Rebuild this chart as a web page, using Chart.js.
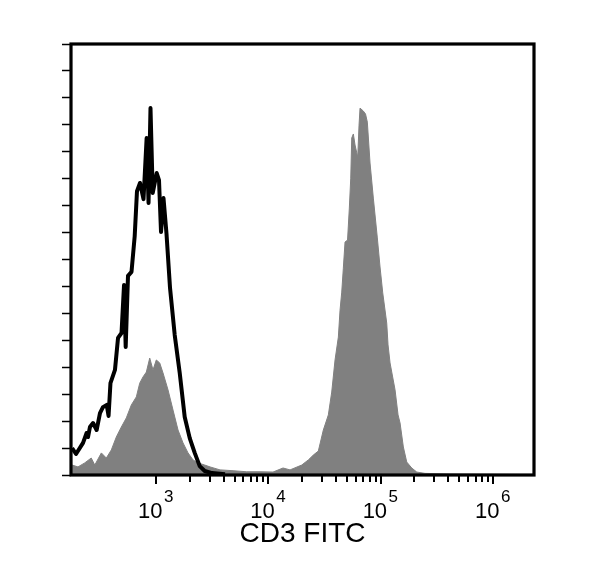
<!DOCTYPE html>
<html>
<head>
<meta charset="utf-8">
<script src="https://cdn.jsdelivr.net/npm/chart.js@4/dist/chart.umd.min.js"></script>
<style>
  html, body { margin: 0; padding: 0; background: #fff; }
</style>
</head>
<body>
<canvas id="histo" width="600" height="572"></canvas>
<script>
// control (black outline) histogram, FITC intensity vs count
var controlX = [179, 194, 224, 241, 248, 258, 275, 296, 317, 337, 364, 378, 393, 431, 459, 493, 519, 537, 563, 605,
    646, 677, 720, 774, 825, 858, 893, 935, 1014, 1063, 1108, 1166, 1240, 1333, 1467, 1626, 1801, 1996, 2211, 2449,
    2715, 3150, 4115];
var controlY = [10.0, 7.8, 11.9, 15.6, 14.1, 17.8, 19.3, 16.7, 23.0, 25.2, 26.0, 21.9, 34.1, 39.0, 50.9, 52.7, 70.5, 47.5, 73.9, 75.4,
    88.7, 105.4, 108.4, 102.4, 125.1, 101.0, 136.2, 104.7, 112.1, 109.5, 90.2, 102.8, 89.5, 69.4, 52.0, 37.9, 21.5, 13.7, 8.2, 3.3,
    1.5, 0.7, 0.3];

// CD3 stained (grey filled) histogram
var cd3X = [179, 202, 232, 265, 285, 326, 361, 400, 443, 491, 544, 603, 668, 716, 766, 820, 879, 940, 1006, 1079,
    1154, 1279, 1417, 1570, 1740, 1928, 2136, 2366, 2715, 3027, 3715, 4851, 6423, 8436, 11014, 13517, 15605, 19837, 22710, 25160,
    27875, 30890, 34220, 36690, 39260, 42020, 43500, 45040, 46550, 48190, 50730, 52640, 54180, 55300, 57150, 59160, 62520, 64220, 65550, 70150,
    73370, 76140, 80460, 86100, 93460, 98790, 104400, 113300, 116400, 121300, 134400, 142900, 148900, 159300, 170800, 189200, 209700, 248500, 414900, 767400,
    1743000, 2323000];
var cd3Y = [3.7, 3.0, 4.5, 6.3, 3.7, 8.2, 6.3, 9.3, 14.1, 17.8, 21.2, 26.0, 29.0, 34.1, 36.4, 38.2, 43.4, 39.0, 42.7, 41.6,
    37.9, 31.6, 24.1, 16.7, 11.9, 8.2, 5.6, 4.5, 3.7, 3.0, 1.9, 1.6, 1.2, 1.2, 1.1, 2.6, 1.9, 3.7, 5.6, 7.4,
    8.9, 16.7, 22.3, 30.8, 42.7, 51.2, 61.2, 67.9, 76.8, 86.5, 87.2, 99.1, 110.2, 125.1, 126.6, 122.5, 118.0, 129.9, 136.2, 135.1,
    134.0, 131.0, 115.8, 102.8, 88.0, 77.2, 67.6, 56.4, 48.3, 41.6, 31.6, 22.3, 19.3, 10.4, 4.8, 2.6, 1.1, 0.6, 0.4, 0.3,
    0.2, 0.2];

var xMajorTicks = [1e3, 1e4, 1e5, 1e6];
var xTickExponents = ['3', '4', '5', '6'];
var xMinorTicks = [];
for (var d = 0; d < 3; d++) {
    for (var m = 2; m <= 9; m++) {
        xMinorTicks.push(m * xMajorTicks[d]);
    }
}
var xTitle = 'CD3 FITC';

var FONT = '"Liberation Sans", Arial, sans-serif';

function toPoints(xs, ys) {
    var pts = [];
    for (var i = 0; i < xs.length; i++) {
        pts.push({ x: xs[i], y: ys[i] });
    }
    return pts;
}

/* frame, x ticks and 10^n labels */
var framePlugin = {
    id: 'frame',
    afterDraw: function(chart) {
        var ctx = chart.ctx;
        var a = chart.chartArea;
        var xs = chart.scales.x;
        ctx.save();
        ctx.strokeStyle = '#000';
        ctx.lineWidth = 3.2;
        ctx.strokeRect(a.left, a.top, a.right - a.left, a.bottom - a.top);

        ctx.lineWidth = 2;
        ctx.beginPath();
        for (var i = 0; i < xMinorTicks.length; i++) {
            var px = Math.round(xs.getPixelForValue(xMinorTicks[i]));
            ctx.moveTo(px, a.bottom + 1);
            ctx.lineTo(px, a.bottom + 7);
        }
        for (var j = 0; j < xMajorTicks.length; j++) {
            var mx = Math.round(xs.getPixelForValue(xMajorTicks[j]));
            ctx.moveTo(mx, a.bottom);
            ctx.lineTo(mx, a.bottom + 9);
        }
        ctx.stroke();

        ctx.fillStyle = '#000';
        ctx.textBaseline = 'alphabetic';
        ctx.textAlign = 'left';
        for (var k = 0; k < xMajorTicks.length; k++) {
            var tx = xs.getPixelForValue(xMajorTicks[k]);
            ctx.font = '22px ' + FONT;
            var w = ctx.measureText('10').width;
            ctx.fillText('10', tx - 18, a.bottom + 43);
            ctx.font = '17px ' + FONT;
            ctx.fillText(xTickExponents[k], tx - 18 + w + 1.5, a.bottom + 27);
        }

        ctx.font = '28px ' + FONT;
        ctx.textAlign = 'center';
        ctx.fillText(xTitle, (a.left + a.right) / 2, a.bottom + 67);
        ctx.restore();
    }
};

var ctx = document.getElementById('histo').getContext('2d');
var histo = new Chart(ctx, {
    type: 'line',
    data: {
        datasets: [{
            label: 'control',
            data: toPoints(controlX, controlY),
            borderColor: '#000',
            borderWidth: 4,
            borderJoinStyle: 'round',
            pointRadius: 0,
            fill: false,
            tension: 0
        }, {
            label: 'CD3',
            data: toPoints(cd3X, cd3Y),
            borderColor: '#808080',
            backgroundColor: '#808080',
            borderWidth: 1,
            pointRadius: 0,
            fill: 'origin',
            tension: 0
        }]
    },
    options: {
        responsive: false,
        animation: false,
        layout: { padding: { top: 44, right: 66, left: 0, bottom: 0 } },
        plugins: {
            legend: { display: false },
            tooltip: { enabled: false }
        },
        scales: {
            x: {
                type: 'logarithmic',
                min: 175,
                max: 2320000,
                grid: { display: false },
                border: { display: false },
                ticks: { display: false },
                afterFit: function(scale) { scale.height = 97; }
            },
            y: {
                type: 'linear',
                min: 0,
                max: 160,
                ticks: { display: false, stepSize: 10 },
                grid: {
                    drawOnChartArea: false,
                    drawTicks: true,
                    tickLength: 9,
                    tickColor: '#000',
                    tickWidth: 1.5
                },
                border: { display: false },
                afterFit: function(scale) { scale.height = scale.height; scale.width = 71; }
            }
        }
    },
    plugins: [framePlugin]
});
</script>
</body>
</html>
